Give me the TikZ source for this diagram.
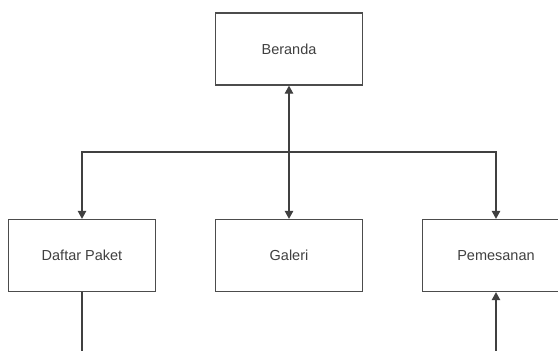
\documentclass[tikz,border=0pt]{standalone}
\usepackage{fontspec}
\setmainfont{Liberation Sans}
\usetikzlibrary{arrows.meta}
\begin{document}
\begin{tikzpicture}[x=1pt,y=-1pt,
  box/.style={draw=black!70,line width=1.3pt,fill=white,minimum width=147pt,minimum height=72pt,inner sep=0pt,font=\fontsize{14.5}{17}\selectfont,text=black!75},
  conn/.style={draw=black!75,line width=1.2pt},
  tip/.style={-{Triangle[width=8.5pt,length=8pt]}},
  bitip/.style={{Triangle[width=8.5pt,length=8pt]}-{Triangle[width=8.5pt,length=8pt]}}]
\useasboundingbox (0,0) rectangle (558,351);
\clip (0,0) rectangle (558,351);
\fill[white] (0,0) rectangle (558,351);
\node[box] (ber) at (289,49) {Beranda};
\node[box] (dp) at (82,255.5) {Daftar Paket};
\node[box] (gal) at (289,255.5) {Galeri};
\node[box] (pm) at (496,255.5) {Pemesanan};
\coordinate (hl) at (82,152);
\coordinate (hm) at (289,152);
\coordinate (hr) at (496,152);
\coordinate (bl) at (82,351.6);
\coordinate (br) at (496,351.6);
\draw[conn,bitip] (ber.south) -- (gal.north);
\draw[conn,tip] (hm) -- (hl) -- (dp.north);
\draw[conn,tip] (hm) -- (hr) -- (pm.north);
\draw[conn,tip] (dp.south) -- (bl) -- (br) -- (pm.south);
\end{tikzpicture}
\end{document}
